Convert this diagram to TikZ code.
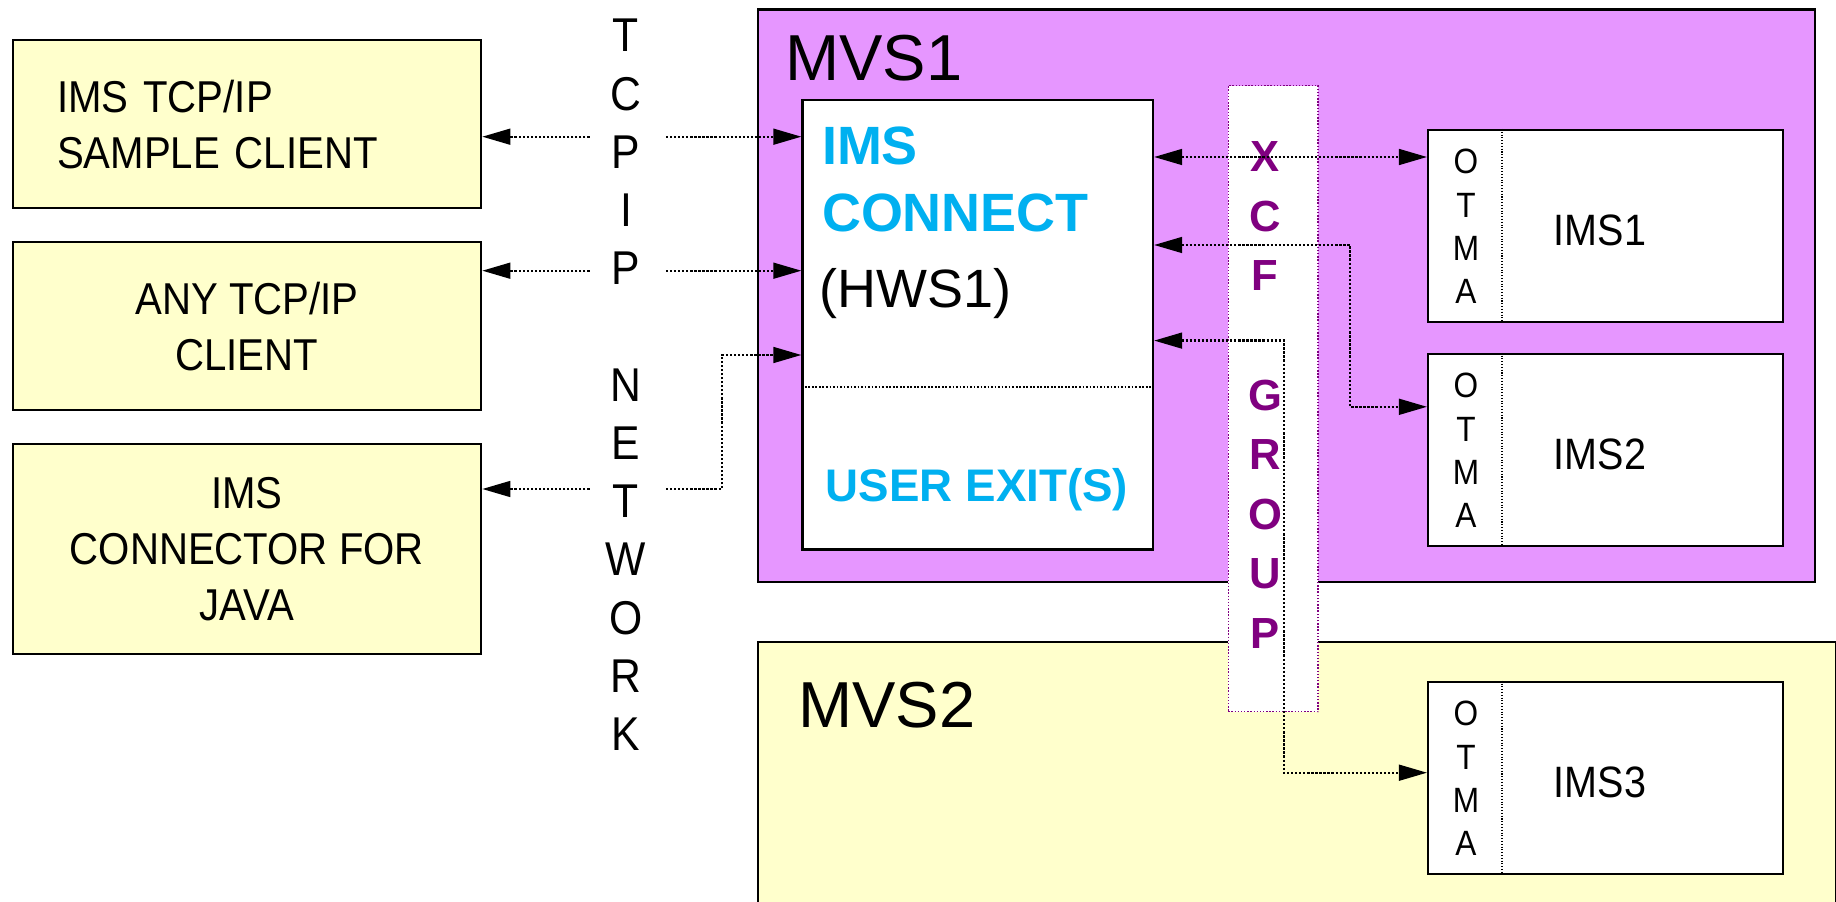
\documentclass[tikz,border=0pt]{standalone}
\usepackage{fontspec}
\setmainfont{Liberation Sans}
\newfontfamily\narrowfont[FakeStretch=0.9]{Liberation Sans}
\usetikzlibrary{arrows.meta}
\definecolor{mvsviolet}{RGB}{230,150,255}
\definecolor{clientyellow}{RGB}{255,255,204}
\definecolor{hwsblue}{RGB}{0,176,240}
\definecolor{xcfpurple}{RGB}{128,0,128}
\def\px{0.02cm}
\tikzset{
  clientbox/.style={draw, line width=1.3pt, fill=clientyellow, inner sep=0pt, anchor=north west,
    minimum width=468.5*\px, font=\narrowfont\fontsize{25.4pt}{31.9pt}\selectfont},
  mvsbox/.style={draw, line width=1.3pt, anchor=north west, inner sep=0pt},
  mvslabel/.style={anchor=base west, inner sep=0pt, font=\fontsize{37pt}{40pt}\selectfont},
  hwsbox/.style={draw, line width=1.2pt, fill=white, anchor=north west, inner sep=0pt},
  hwstext/.style={anchor=base west, inner sep=0pt, text=hwsblue, font=\bfseries\fontsize{30.7pt}{34pt}\selectfont},
  imsbox/.style={draw, line width=1.4pt, fill=white, anchor=north west, inner sep=0pt,
    minimum width=355*\px, minimum height=192*\px},
  imslabel/.style={anchor=base, inner sep=0pt, font=\narrowfont\fontsize{25pt}{28pt}\selectfont},
  otmaletter/.style={anchor=base, inner sep=0pt, font=\narrowfont\fontsize{20pt}{22pt}\selectfont},
  netletter/.style={anchor=base, inner sep=0pt, font=\narrowfont\fontsize{27pt}{30pt}\selectfont},
  xcfstrip/.style={draw=xcfpurple, densely dotted, line width=0.8pt, fill=white, anchor=north west, inner sep=0pt},
  xcfletter/.style={anchor=base, inner sep=0pt, text=xcfpurple, font=\bfseries\fontsize{24.8pt}{27pt}\selectfont},
  link/.style={line width=1.3pt, densely dotted},
  >={Triangle[length=16pt,width=9pt]}
}
\begin{document}
\begin{tikzpicture}[x=0.02cm,y=-0.02cm]
  \useasboundingbox (0,0) rectangle (1836,902);
  % clients
  \node[clientbox, minimum height=168.5*\px, text width=379.5*\px, inner xsep=44.5*\px, align=left]
    (c1) at (11.5,38.7) {IMS TCP/IP\\SAMPLE CLIENT};
  \node[clientbox, minimum height=168.5*\px, align=center] (c2) at (11.5,240.7) {ANY TCP/IP\\CLIENT};
  \node[clientbox, minimum height=210.3*\px, align=center] (c3) at (11.5,442.7) {IMS\\CONNECTOR FOR\\JAVA};
  % TCP/IP network
  \foreach \k/\ch in {0/T,1/C,2/P,3/I,4/P,6/N,7/E,8/T,9/W,10/O,11/R,12/K}
    \node[netletter] (net\k) at (626,{52+58.2*\k}) {\ch};
  % MVS images
  \node[mvsbox, fill=mvsviolet, minimum width=1057.3*\px, minimum height=572.2*\px] (mvs1) at (756.5,8.4) {};
  \node[mvslabel] (mvs1lbl) at (785,80.4) {MVS1};
  \node[mvsbox, fill=clientyellow, minimum width=1078*\px, minimum height=270*\px] (mvs2) at (756.5,641) {};
  \node[mvslabel] (mvs2lbl) at (798,727) {MVS2};
  % IMS Connect
  \node[hwsbox, minimum width=350.6*\px, minimum height=449.7*\px] (hws) at (801.4,98.7) {};
  \draw[densely dotted, line width=1pt] (801.4,387) -- (1152,387);
  \node[hwstext] (hwsims) at (821.7,164.6) {IMS};
  \node[hwstext] (hwscon) at (821.7,231.5) {CONNECT};
  \node[hwstext, text=black, font=\fontsize{30.7pt}{34pt}\selectfont] (hwsname) at (819,308) {(HWS1)};
  \node[hwstext, anchor=base, font=\bfseries\fontsize{26pt}{29pt}\selectfont] (hwsexit) at (977,501) {USER EXIT(S)};
  % IMS systems
  \node[imsbox] (ims1) at (1427,129) {};
  \node[imsbox] (ims2) at (1427,352.8) {};
  \node[imsbox] (ims3) at (1427,680.7) {};
  \foreach \b/\t/\n in {ims1/129/IMS1,ims2/352.8/IMS2,ims3/680.7/IMS3}{
    \draw[densely dotted, line width=0.6pt] (1502,\t) -- (1502,{\t+192});
    \foreach \k/\ch in {0/O,1/T,2/M,3/A}
      \node[otmaletter] (\b-\k) at (1466,{\t+45+43.3*\k}) {\ch};
    \node[imslabel] (\b lbl) at (1600,{\t+117}) {\n};
  }
  % XCF group
  \node[xcfstrip, minimum width=89.9*\px, minimum height=626*\px] (xcf) at (1227.5,85) {};
  \foreach \k/\ch in {0/X,1/C,2/F,4/G,5/R,6/O,7/U,8/P}
    \node[xcfletter] (xcf\k) at (1265,{172+59.5*\k}) {\ch};
  % network links
  \coordinate (n1l) at (589.5,136.7);
  \coordinate (n1r) at (666,136.7);
  \coordinate (n2l) at (589.5,270.7);
  \coordinate (n2r) at (666,270.7);
  \coordinate (n3l) at (589.5,489);
  \coordinate (n3r) at (666,489);
  \coordinate (bend3) at (722,355);
  \draw[link,->] (n1l) -- (n1l -| c1.east);
  \draw[link,->] (n1r) -- (n1r -| hws.west);
  \draw[link,->] (n2l) -- (n2l -| c2.east);
  \draw[link,->] (n2r) -- (n2r -| hws.west);
  \draw[link,->] (n3l) -- (n3l -| c3.east);
  \draw[link,->] (n3r) -| (bend3) -- (bend3 -| hws.west);
  % XCF links
  \coordinate (a1) at (1300,157);
  \coordinate (a2) at (1350,245);
  \coordinate (b2) at (1350,406.8);
  \coordinate (a3) at (1284,340.6);
  \coordinate (b3) at (1284,772.7);
  \draw[link,<->] (a1 -| hws.east) -- (a1 -| ims1.west);
  \draw[link,<->] (a2 -| hws.east) -- (a2) -- (b2) -- (b2 -| ims2.west);
  \draw[link,<->] (a3 -| hws.east) -- (a3) -- (b3) -- (b3 -| ims3.west);
\end{tikzpicture}
\end{document}
